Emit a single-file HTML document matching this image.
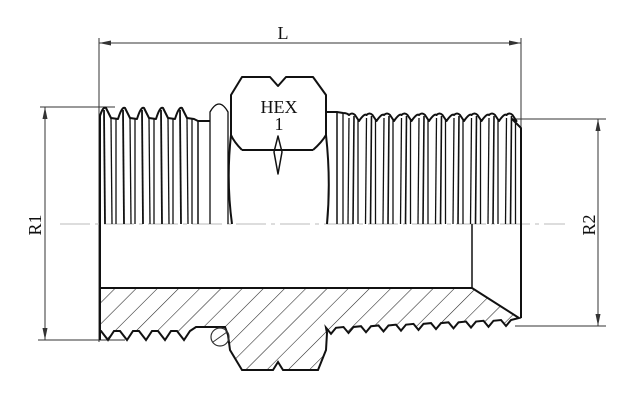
<!DOCTYPE html>
<html><head><meta charset="utf-8"><style>
html,body{margin:0;padding:0;background:#fff;width:631px;height:403px;overflow:hidden}
svg{display:block}
text{font-family:"Liberation Serif",serif;fill:#111}
</style></head><body>
<svg id="s" width="631" height="403" viewBox="0 0 631 403" xmlns="http://www.w3.org/2000/svg">
<defs>
<pattern id="h" width="15" height="15" patternUnits="userSpaceOnUse" patternTransform="rotate(45)">
<line x1="0" y1="0" x2="0" y2="15" stroke="#222" stroke-width="1.1"/>
</pattern>
<clipPath id="c"><path id="bp" d=""/></clipPath>
</defs>
<g stroke="#333" stroke-width="1" fill="none">
<line x1="99" y1="38" x2="99" y2="342"/>
<line x1="521" y1="38" x2="521" y2="130"/>
<line x1="99" y1="43" x2="521" y2="43"/>
<line x1="40" y1="107" x2="115" y2="107"/>
<line x1="38" y1="340" x2="125" y2="340"/>
<line x1="45" y1="107" x2="45" y2="340"/>
<line x1="515" y1="119" x2="606" y2="119"/>
<line x1="515" y1="326" x2="606" y2="326"/>
<line x1="598" y1="119" x2="598" y2="326"/>
</g>
<g fill="#333">
<path d="M99 43 L111 40.5 L111 45.5Z"/><path d="M521 43 L509 40.5 L509 45.5Z"/>
<path d="M45 107 L42.5 119 L47.5 119Z"/><path d="M45 340 L42.5 328 L47.5 328Z"/>
<path d="M598 119 L595.5 131 L600.5 131Z"/><path d="M598 326 L595.5 314 L600.5 314Z"/>
</g>
<line x1="60" y1="224" x2="565" y2="224" stroke="#bbb" stroke-width="1" stroke-dasharray="30,5,4,5"/>
<text x="283" y="39" font-size="18" text-anchor="middle">L</text>
<text transform="translate(41,225) rotate(-90)" font-size="18" text-anchor="middle">R1</text>
<text transform="translate(595,225) rotate(-90)" font-size="18" text-anchor="middle">R2</text>
<g id="g" stroke="#111" stroke-width="2" fill="none" stroke-linejoin="round"></g>
<rect x="100" y="286" width="425" height="90" fill="url(#h)" clip-path="url(#c)"/>
<g stroke="#111" stroke-width="2" fill="none"><use href="#bp"/></g>
<text x="279" y="113" font-size="18" text-anchor="middle">HEX</text>
<text x="279" y="130" font-size="18" text-anchor="middle">1</text>
</svg>
<script>
var g=document.getElementById('g'),NS='http://www.w3.org/2000/svg';
function P(d,w){var p=document.createElementNS(NS,'path');p.setAttribute('d',d);if(w)p.setAttribute('stroke-width',w);g.appendChild(p);}
var d='M100 340 L100 116 ';var x;
for(x=101;x<190;x+=19){d+='Q'+(x+2)+' 106 '+(x+5)+' 108 L'+(x+10)+' 118 L'+(x+17)+' 119 ';}
d+='L198 121 L210 121';P(d);
for(x=101;x<195;x+=19){P('M'+(x+3)+' 110 L'+(x+4)+' 224',1.8);P('M'+(x+10)+' 118 L'+(x+11)+' 224',1.3);P('M'+(x+15)+' 119 L'+(x+15)+' 224',1.3);}
P('M198 121 L198 224',1.5);
P('M210 224 L210 112 Q219 96 228 112 L228 224',1.3);
P('M232 224 Q226 180 231 135 L231 95 L242 77 L270 77 L278 86 L286 77 L313 77 L326 95 L326 135 Q331 180 327 224');
P('M242 150 L313 150');P('M242 150 Q234 142 231 135');P('M313 150 Q322 142 326 135');
P('M278 136 L274 152 L278 174 L282 152 Z',1.5);
d='M326 130 L326 112 L337 112 L343 113 ';
for(x=343;x<505;x+=17.5){d+='Q'+(x+4)+' 113 '+(x+6)+' 115 Q'+(x+9)+' 112 '+(x+12)+' 115 L'+(x+16)+' 121 ';}
d+='L512 119 L521 128 L521 318';P(d);
P('M337 112 L337 224',1.5);P('M343 113 L343 224',1.3);
for(x=343;x<510;x+=17.5){P('M'+(x+6)+' 118 L'+(x+5)+' 224',1.3);P('M'+(x+11)+' 116 L'+(x+10)+' 224',1.6);P('M'+(x+15)+' 120 L'+(x+15)+' 224',1.3);}
P('M472 224 L472 288',1.5);
var b='M100 288 L472 288 L519 318 ';
for(x=515;x>335;x-=17.5){var t=(515-x)/180*8;b+='L'+(x-4)+' '+(320+t)+' L'+(x-9)+' '+(326+t)+' L'+(x-14)+' '+(320+t)+' ';}
b+='L327 333 L326 350 L318 370 L283 370 L278 362 L273 370 L242 370 L230 350 L228 335 L225 327 L196 327 ';
for(x=196;x>105;x-=19){b+='L'+(x-6)+' 331 L'+(x-12)+' 340 L'+(x-19)+' 331 ';}
b+='L100 331 Z';
document.getElementById('bp').setAttribute('d',b);
var c=document.createElementNS(NS,'circle');c.setAttribute('cx',220);c.setAttribute('cy',337);c.setAttribute('r',9);c.setAttribute('stroke-width',1.2);c.setAttribute('stroke','#333');c.setAttribute('fill','none');g.parentNode.appendChild(c);
var l=document.createElementNS(NS,'line');l.setAttribute('x1',213);l.setAttribute('y1',342);l.setAttribute('x2',227);l.setAttribute('y2',332);l.setAttribute('stroke','#333');g.parentNode.appendChild(l);
</script>
</body></html>
